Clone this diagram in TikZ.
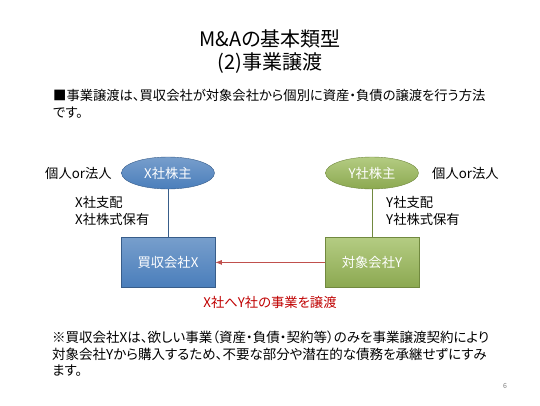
\documentclass[tikz,border=0pt]{standalone}
\usepackage{fontspec}
\setmainfont{Noto Sans CJK JP}[RawFeature=+palt]
\usepackage{xcolor}
\definecolor{mablue}{HTML}{4A7EBB}
\definecolor{mabluedark}{HTML}{385D8A}
\definecolor{magreen}{HTML}{9BBB59}
\definecolor{magreendark}{HTML}{71893F}
\definecolor{mared}{HTML}{C0504D}
\definecolor{matext}{HTML}{C00000}
\usetikzlibrary{arrows.meta,positioning,shapes.geometric}
\newcommand{\bodyfont}{\fontsize{13.3}{17}\selectfont}

\begin{document}
\begin{tikzpicture}[x=1pt,y=-1pt,>=Latex,node distance=48pt]
\tikzset{
 sh/.style={ellipse,minimum width=93pt,minimum height=32pt,inner sep=0pt,text=white,font=\bodyfont},
 co/.style={rectangle,minimum width=94pt,minimum height=50pt,inner sep=0pt,text=white,font=\bodyfont},
 blu/.style={draw=mabluedark,top color=mablue!75!white,bottom color=mablue},
 grn/.style={draw=magreendark,top color=magreen!75!white,bottom color=magreen!90!black},
 t/.style={font=\bodyfont,inner sep=0pt},
 a/.style={->,thick,draw=mared}
}
\fill[white] (0,0) rectangle (540,405);
\node[font=\fontsize{20}{23}\selectfont,align=center] (title) at (270,52) {M\&Aの基本類型\\(2)事業譲渡};
\node[t,anchor=west,align=left] (lead) at (53,104) {■事業譲渡は、買収会社が対象会社から個別に資産・負債の譲渡を行う方法\\です。};
% shareholders
\node[sh,blu] (xsh) at (168,173) {X社株主};
\node[sh,grn] (ysh) at (372,173) {Y社株主};
\node[t,anchor=west] (xkind) at (45,173) {個人or法人};
\node[t,anchor=west] (ykind) at (432,173) {個人or法人};
% companies
\node[co,blu,below=of xsh] (xco) {買収会社X};
\node[co,grn,below=of ysh] (yco) {対象会社Y};
\node[t,anchor=west,align=left] (xrel) at (75,211) {X社支配\\X社株式保有};
\node[t,anchor=west,align=left] (yrel) at (386,211) {Y社支配\\Y社株式保有};
\draw[mabluedark,thick] (xsh)--(xco);
\draw[magreendark,thick] (ysh)--(yco);
\draw[a] (yco)--(xco);
\node[t,text=matext] (deal) at (270,302) {X社へY社の事業を譲渡};
% note
\node[t,anchor=north west,align=left,font=\fontsize{13.5}{16.5}\selectfont] (note) at (52,331) {※買収会社Xは、欲しい事業（資産・負債・契約等）のみを事業譲渡契約により\\対象会社Yから購入するため、不要な部分や潜在的な債務を承継せずにすみ\\ます。};
\node[font=\fontsize{7}{8}\selectfont,text=gray] (page) at (505,386) {6};
\end{tikzpicture}
\end{document}
